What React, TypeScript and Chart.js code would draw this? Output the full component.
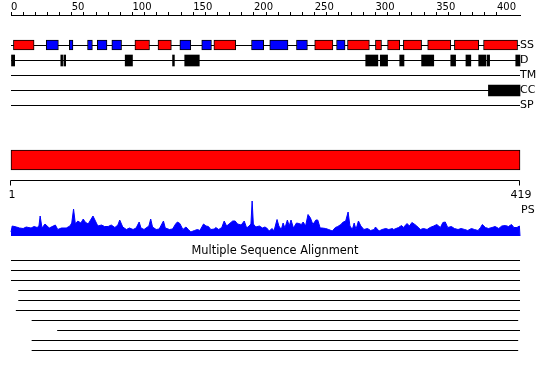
import React, { useEffect, useRef } from 'react';
import { Chart, registerables } from 'chart.js';

Chart.register(...registerables);

// ---------- data ----------
const SEQ_LEN = 419;
const RULER_STEP = 10;
const RULER_LABEL_EVERY = 50;
const BOTTOM_TICKS = [1, 419];
const TRACK_LABELS = ['SS', 'D', 'TM', 'CC', 'SP'];
const PS_LABEL = 'PS';
const MSA_TITLE = 'Multiple Sequence Alignment';

// secondary structure elements (H = helix, red; E = strand, blue)
const SS_START = [2, 29, 48, 63, 71, 83, 102, 121, 139, 157, 167, 198, 213, 235, 250, 268, 277, 300, 310, 323, 343, 365, 389];
const SS_END = [19, 39, 51, 67, 79, 91, 114, 132, 148, 165, 185, 208, 228, 244, 265, 275, 295, 305, 320, 338, 362, 385, 417];
const SS_TYPE = ['H', 'E', 'E', 'E', 'E', 'E', 'H', 'H', 'E', 'E', 'H', 'E', 'E', 'E', 'H', 'E', 'H', 'H', 'H', 'H', 'H', 'H', 'H'];

// disorder segments
const D_START = [0, 41, 43.5, 94, 133, 143, 292, 304, 320, 338, 362, 374.5, 385, 392, 415.5];
const D_END = [3, 42.5, 45, 100, 134.5, 155, 302, 310, 323.5, 348, 366, 378.5, 391, 394, 419];

// coiled coil segments
const CC_START = [393];
const CC_END = [419];

// domain bar
const DOMAIN_START = [1];
const DOMAIN_END = [419];

// PS profile (residue, score)
const PS_POS = [0, 1, 4.5, 7, 10, 12.5, 16.5, 19, 21.5, 23, 24, 25.5, 28, 31.5, 36.5, 38.5, 41.5, 45.5, 48.5, 50, 51.5, 53, 55, 57.5, 59.5, 61, 63.5, 65.5, 67.5, 69.5, 71.5, 74.5, 77, 80, 82.5, 85.5, 88, 89.5, 92, 95, 97.5, 100.5, 103, 105.5, 107, 109.5, 113.5, 115, 116.5, 119.5, 122, 125.5, 127, 130.5, 133, 135.5, 137, 139, 141.5, 144, 146, 148, 151, 153.5, 155.5, 158.5, 160.5, 162.5, 164.5, 167.5, 168.5, 171, 173.5, 175.5, 177.5, 179.5, 182.5, 184.5, 186.5, 189.5, 192, 194, 196, 197.5, 198.5, 199.5, 201.5, 204.5, 207, 209, 210.5, 212.5, 215, 216.5, 219, 220.5, 222.5, 224, 225.5, 227.5, 229, 230.5, 232.5, 235, 237, 239, 240.5, 242.5, 244.5, 246.5, 248.5, 251, 252.5, 254.5, 256, 259, 261.5, 264.5, 267, 269, 271.5, 273.5, 275.5, 277.5, 279, 281, 282.5, 284, 286, 288, 290.5, 293.5, 296, 299, 300, 303, 305.5, 308.5, 311, 314, 315, 319, 321.5, 323, 326, 328, 330, 332.5, 334, 337, 339.5, 342.5, 345, 348, 350.5, 353.5, 355.5, 357.5, 359.5, 362.5, 365, 368, 370.5, 373.5, 376, 379, 381.5, 384.5, 386.5, 388, 390.5, 393, 396, 398.5, 401.5, 404, 407, 409.5, 412, 414, 416.5, 418.5, 419];
const PS_VAL = [4, 10, 9, 8, 7.5, 9, 8, 9.5, 8.5, 10, 20, 8, 12, 8, 11, 6.5, 8, 8, 10, 13, 27, 12, 15, 13, 17, 14, 12, 16, 20, 15, 10, 11, 9.5, 9.5, 11, 8.5, 11, 16, 9, 6.5, 8, 6.5, 8, 14, 8, 6.5, 10, 17, 9, 6.5, 7, 15, 8, 6.5, 7, 12, 14, 12.5, 6.5, 9, 6.5, 4, 5.5, 6.5, 5.5, 12, 10, 9.5, 6.5, 7, 8.5, 6.5, 8.5, 15, 10, 12, 15, 15, 12, 11, 15, 8, 10, 12, 35, 12, 9, 10, 8, 9, 8, 5, 7.5, 5, 16.5, 10, 6.5, 13, 8, 16, 10, 16, 8, 13, 12.5, 11.5, 14, 10, 21.5, 18, 11.5, 16, 16, 8, 8, 7.5, 6.5, 5, 8.5, 9.5, 11.5, 14, 15, 24, 10, 6.5, 13, 6.5, 15, 10, 6.5, 7.5, 5.5, 6.5, 9, 5, 6.5, 7.5, 6.5, 7.5, 6.5, 8.5, 10.5, 8.5, 12.5, 10, 13.5, 11.5, 10, 6.5, 7.5, 6.5, 8.5, 10, 11.5, 8.5, 13.5, 14, 8.5, 9.5, 7.5, 6.5, 7.5, 6.5, 5.5, 7.5, 6.5, 5.5, 8.5, 11.5, 8.5, 7.5, 8.5, 9.5, 7.5, 10, 10.5, 9.5, 11.5, 8.5, 8.5, 10, 0];

// multiple sequence alignment coverage
const MSA_START = [0, 0, 0, 6, 6, 4, 17, 38, 17, 17];
const MSA_END = [419, 419, 419, 419, 419, 419, 417.5, 419, 417.5, 417.5];

// ---------- layout / style ----------
const W = 550;
const H = 380;
const PAD_LEFT = 11;
const PAD_RIGHT = 30;
const RULER_H = 15;
const TRACK_Y: Record<string, number> = { SS: 45, D: 60, TM: 75, CC: 90, SP: 105 };
const CRISP = 0.5;
const DOMAIN_Y = 160;
const BOTTOM_RULER_Y = 180;
const BOTTOM_TICK_LEN = 5;
const BOTTOM_LABEL_Y = 195;
const PS_BASE_Y = 236;
const PS_LABEL_Y = 210.5;
const MSA_TITLE_Y = 251;
const MSA_TOP = 260;
const MSA_GAP = 10;
const RED = '#ff0000';
const BLUE = '#0000ff';
const BLACK = '#000000';
const FONT = "'DejaVu Sans', sans-serif";

const hLine = (a: number, b: number, y: number, extra: any = {}) => ({
  type: 'line',
  data: [{ x: a, y }, { x: b, y }],
  borderColor: BLACK,
  borderWidth: 1,
  pointRadius: 0,
  fill: false,
  clip: false,
  order: 10,
  xAxisID: 'x',
  yAxisID: 'y',
  ...extra,
});

const textPlugin = {
  id: 'textLabels',
  afterDraw(chart: any) {
    const { ctx, scales } = chart;
    const xr = scales.x.getPixelForValue(SEQ_LEN);
    const yS = scales.y;
    ctx.save();
    ctx.fillStyle = BLACK;
    ctx.strokeStyle = BLACK;
    ctx.lineWidth = 1;

    // bottom ruler (residue numbering of the full sequence)
    const xb = scales.xB;
    const y0 = yS.getPixelForValue(BOTTOM_RULER_Y) + CRISP;
    const pix = (v: number) => Math.round(xb.getPixelForValue(v)) - CRISP;
    ctx.beginPath();
    ctx.moveTo(pix(BOTTOM_TICKS[0]), y0);
    ctx.lineTo(pix(BOTTOM_TICKS[BOTTOM_TICKS.length - 1]), y0);
    BOTTOM_TICKS.forEach((v) => {
      ctx.moveTo(pix(v), y0);
      ctx.lineTo(pix(v), y0 + BOTTOM_TICK_LEN);
    });
    ctx.stroke();
    ctx.font = `11px ${FONT}`;
    ctx.textAlign = 'center';
    ctx.textBaseline = 'middle';
    BOTTOM_TICKS.forEach((v) => {
      ctx.fillText(String(v), xb.getPixelForValue(v) + 1, yS.getPixelForValue(BOTTOM_LABEL_Y));
    });

    // track labels
    ctx.textAlign = 'left';
    TRACK_LABELS.forEach((name) => {
      ctx.fillText(name, xr, yS.getPixelForValue(TRACK_Y[name] + CRISP));
    });
    ctx.fillText(PS_LABEL, xr + 1, yS.getPixelForValue(PS_LABEL_Y));

    // MSA title
    ctx.font = `11.4px ${FONT}`;
    ctx.textAlign = 'center';
    ctx.fillText(MSA_TITLE, chart.width / 2, yS.getPixelForValue(MSA_TITLE_Y));
    ctx.restore();
  },
};

export default function App() {
  const ref = useRef<HTMLCanvasElement>(null);

  useEffect(() => {
    document.body.style.margin = '0';
    Chart.defaults.font.family = FONT;
    const bar = {
      type: 'bar',
      indexAxis: 'y',
      grouped: false,
      borderSkipped: false,
      clip: false,
      order: 0,
      xAxisID: 'x',
      yAxisID: 'y',
    };

    const datasets: any[] = [];
    datasets.push({
      ...bar,
      data: SS_START.map((s, i) => ({ x: [s, SS_END[i]], y: TRACK_Y.SS })),
      backgroundColor: SS_TYPE.map((t) => (t === 'H' ? RED : BLUE)),
      borderColor: BLACK,
      borderWidth: 1,
      barThickness: 10,
    });
    datasets.push({
      ...bar,
      data: D_START.map((s, i) => ({ x: [s, D_END[i]], y: TRACK_Y.D + CRISP })),
      backgroundColor: BLACK,
      borderWidth: 0,
      barThickness: 11,
    });
    datasets.push({
      ...bar,
      data: CC_START.map((s, i) => ({ x: [s, CC_END[i]], y: TRACK_Y.CC + CRISP })),
      backgroundColor: BLACK,
      borderWidth: 0,
      barThickness: 11,
    });
    datasets.push({
      ...bar,
      xAxisID: 'xB',
      data: DOMAIN_START.map((s, i) => ({ x: [s, DOMAIN_END[i]], y: DOMAIN_Y })),
      backgroundColor: RED,
      borderColor: BLACK,
      borderWidth: 1,
      barThickness: 20,
    });
    TRACK_LABELS.forEach((name) => datasets.push(hLine(0, SEQ_LEN, TRACK_Y[name] + CRISP)));
    datasets.push({
      type: 'line',
      data: PS_POS.map((p, i) => ({ x: p, y: PS_VAL[i] })),
      xAxisID: 'x',
      yAxisID: 'yPS',
      borderColor: BLUE,
      backgroundColor: BLUE,
      borderWidth: 1,
      pointRadius: 0,
      tension: 0,
      fill: 'origin',
      clip: false,
      order: 5,
    });
    MSA_START.forEach((s, i) => datasets.push(hLine(s, MSA_END[i], MSA_TOP + i * MSA_GAP + CRISP)));

    const chart = new Chart(ref.current!, {
      type: 'bar',
      data: { datasets },
      plugins: [textPlugin],
      options: {
        animation: false,
        responsive: false,
        devicePixelRatio: 1,
        layout: { padding: { left: PAD_LEFT, right: PAD_RIGHT, top: 0, bottom: 0 } },
        plugins: { legend: { display: false }, tooltip: { enabled: false }, title: { display: false } },
        scales: {
          x: {
            type: 'linear',
            position: 'top',
            offset: false,
            min: 0,
            max: SEQ_LEN,
            afterFit: (s: any) => {
              s.height = RULER_H;
              s.paddingLeft = 0;
              s.paddingRight = 0;
            },
            afterBuildTicks: (s: any) => {
              s.ticks = s.ticks.filter((t: any) => t.value % RULER_STEP === 0);
            },
            ticks: {
              stepSize: RULER_STEP,
              autoSkip: false,
              maxRotation: 0,
              align: 'start',
              padding: -1.5,
              color: BLACK,
              font: { size: 10, family: FONT },
              callback: (v: any) => (v % RULER_LABEL_EVERY === 0 ? String(v) : ''),
            },
            grid: { offset: false, drawOnChartArea: false, drawTicks: true, tickLength: 3, color: BLACK },
            border: { display: true, color: BLACK },
          },
          xB: {
            type: 'linear',
            axis: 'x',
            position: 'bottom',
            display: false,
            offset: false,
            min: BOTTOM_TICKS[0],
            max: BOTTOM_TICKS[BOTTOM_TICKS.length - 1],
          },
          y: { type: 'linear', offset: false, min: RULER_H, max: H, reverse: true, display: false },
          yPS: { type: 'linear', axis: 'y', offset: false, min: PS_BASE_Y - H, max: PS_BASE_Y - RULER_H, display: false },
        },
      } as any,
    } as any);
    return () => chart.destroy();
  }, []);

  return (
    <div style={{ position: 'fixed', left: 0, top: 0, width: W, height: H, background: '#fff' }}>
      <canvas ref={ref} width={W} height={H} style={{ display: 'block', width: W, height: H }} />
    </div>
  );
}
